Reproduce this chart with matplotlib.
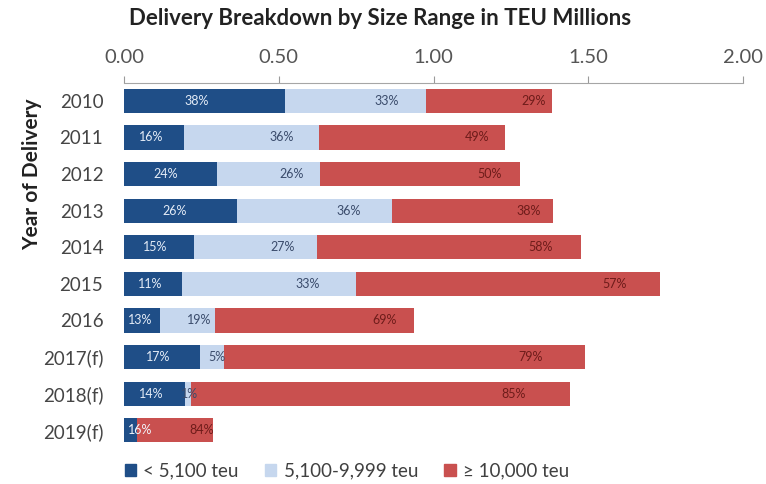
import numpy as np
import matplotlib.pyplot as plt
from matplotlib.patches import Patch

plt.rcParams['font.family'] = ['Lato', 'DejaVu Sans']

# --- data (TEU millions per size range) ---
years = ["2010", "2011", "2012", "2013", "2014", "2015", "2016",
         "2017(f)", "2018(f)", "2019(f)"]
small = [0.519, 0.193, 0.300, 0.364, 0.225, 0.187, 0.116, 0.245, 0.196, 0.042]
mid = [0.457, 0.438, 0.334, 0.502, 0.397, 0.563, 0.177, 0.077, 0.021, 0.0]
large = [0.408, 0.599, 0.645, 0.519, 0.853, 0.983, 0.644, 1.166, 1.224, 0.245]

small_pct = ["38%", "16%", "24%", "26%", "15%", "11%", "13%", "17%", "14%", "16%"]
mid_pct = ["33%", "36%", "26%", "36%", "27%", "33%", "19%", "5%", "1%", ""]
large_pct = ["29%", "49%", "50%", "38%", "58%", "57%", "69%", "79%", "85%", "84%"]

series_names = ["< 5,100 teu", "5,100-9,999 teu", "\u2265 10,000 teu"]
xticks = [0.0, 0.5, 1.0, 1.5, 2.0]

# --- styling ---
c_dark = "#1f4e87"
c_light = "#c6d7ee"
c_red = "#c9504f"

fig = plt.figure(figsize=(7.66, 4.84), dpi=100)
ax = fig.add_axes([0.162, 0.0733, 0.808, 0.7562])

y = np.arange(len(years))
small = np.array(small)
mid = np.array(mid)
large = np.array(large)

h = 0.66
ax.barh(y, small, height=h, color=c_dark)
ax.barh(y, mid, left=small, height=h, color=c_light)
ax.barh(y, large, left=small + mid, height=h, color=c_red)

# --- segment labels ---
for i in range(len(years)):
    if small[i] < 0.08:
        # too narrow to hold the label: start it at the bar's left edge
        ax.text(0.012, y[i], small_pct[i], ha="left", va="center",
                fontsize=9, color="#f2f5fa")
    else:
        ax.text(small[i] * 0.45, y[i], small_pct[i], ha="center",
                va="center", fontsize=9, color="#e4ecf7")
    if mid_pct[i]:
        ax.text(small[i] + mid[i] * 0.72, y[i], mid_pct[i], ha="center",
                va="center", fontsize=9, color="#3a4b6b")
    ax.text(small[i] + mid[i] + large[i] * 0.85, y[i], large_pct[i],
            ha="center", va="center", fontsize=9, color="#6e1c1a")

ax.set_xlim(0, 2.0)
ax.set_ylim(len(years) - 0.5, -0.5)
ax.set_xticks(xticks)
ax.set_xticklabels([f"{v:.2f}" for v in xticks])
ax.set_yticks(y)
ax.set_yticklabels(years)

ax.xaxis.tick_top()
ax.tick_params(axis="x", direction="out", length=5, color="#9a9a9a",
               labelsize=14.5, labelcolor="#555555", pad=7)
ax.tick_params(axis="y", length=0, labelsize=13.5, labelcolor="#454545", pad=15)

for side in ["left", "right", "bottom"]:
    ax.spines[side].set_visible(False)
ax.spines["top"].set_color("#a6a6a6")

ax.set_ylabel("Year of Delivery", fontsize=15, fontweight="bold",
              color="#222222")
ax.yaxis.set_label_coords(-0.133, 0.75)

fig.text(0.496, 0.962, "Delivery Breakdown by Size Range in TEU Millions",
         ha="center", va="center", fontsize=16, fontweight="bold",
         color="#222222")

handles = [Patch(color=c_dark), Patch(color=c_light), Patch(color=c_red)]
fig.legend(handles, series_names, loc="center", bbox_to_anchor=(0.453, 0.027),
           ncol=3, frameon=False, fontsize=13.5, handlelength=0.6,
           handleheight=0.6, handletextpad=0.4, columnspacing=1.4,
           labelcolor="#404040")

fig.savefig("out.png", dpi=100)
